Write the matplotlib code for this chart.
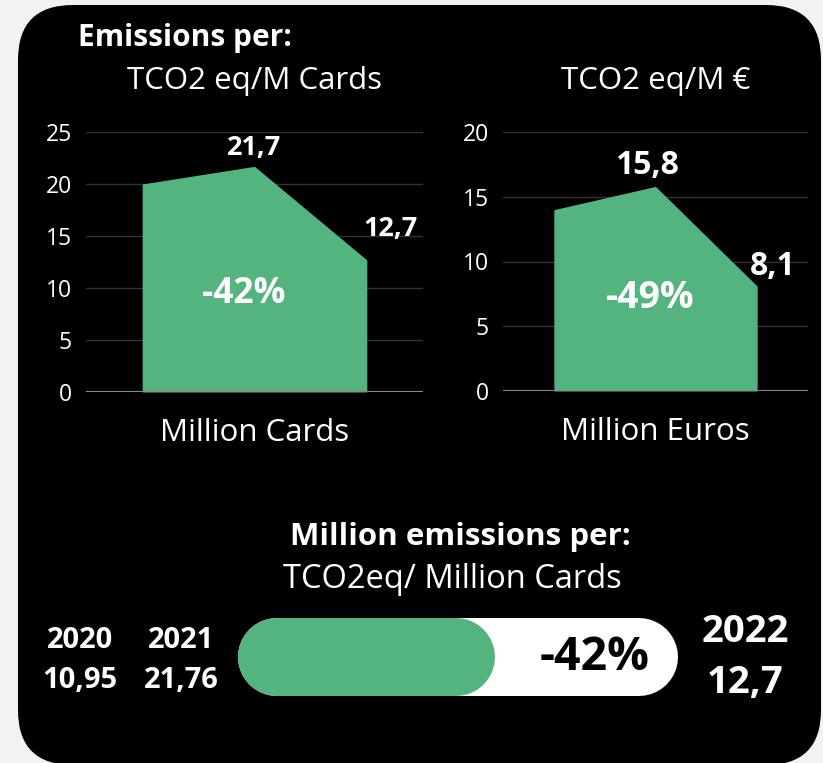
import matplotlib
matplotlib.use("Agg")
import matplotlib.pyplot as plt
from matplotlib.patches import FancyBboxPatch

plt.rcParams['font.family'] = ['Open Sans', 'DejaVu Sans']

# data
years = ['2020', '2021', '2022']
per_cards = [20.0, 21.7, 12.7]
per_euros = [14.0, 15.8, 8.1]
cards_change = '-42%'
euros_change = '-49%'
summary_years = ['2020', '2021', '2022']
summary_values = [10.95, 21.76, 12.7]
summary_change = '-42%'

green = '#53b47f'
W, H = 823, 763


def fr(x0, y0, x1, y1):
    # pixel box -> figure fraction rect
    return [x0 / W, 1 - y1 / H, (x1 - x0) / W, (y1 - y0) / H]


def fmt(v, nd=1):
    return f"{v:.{nd}f}".replace('.', ',')


fig = plt.figure(figsize=(W / 100, H / 100), dpi=100, facecolor='#f2f2f2')

# background panel in pixel coordinates
bg = fig.add_axes([0, 0, 1, 1], zorder=0)
bg.set_xlim(0, W)
bg.set_ylim(H, 0)
bg.axis('off')
bg.add_patch(FancyBboxPatch((18, 5), 803, 760, boxstyle='round,pad=0,rounding_size=55',
                            fc='black', ec='none'))
bg.text(78, 38, 'Emissions per:', color='white', fontsize=21.5, fontweight='bold',
        ha='left', va='center')
bg.text(460, 537, 'Million emissions per:', color='white', fontsize=22.5, fontweight='bold',
        ha='center', va='center')
bg.text(452, 580, 'TCO2eq/ Million Cards', color='white', fontsize=23.5,
        ha='center', va='center')
for x, yr, v in zip([80, 181], summary_years[:2], summary_values[:2]):
    bg.text(x, 640, yr, color='white', fontsize=21, fontweight='bold', ha='center', va='center')
    bg.text(x, 680, fmt(v, 2), color='white', fontsize=21, fontweight='bold', ha='center', va='center')
bg.text(745, 632, summary_years[2], color='white', fontsize=27.5, fontweight='bold', ha='center', va='center')
bg.text(745, 683, fmt(summary_values[2]), color='white', fontsize=27.5, fontweight='bold', ha='center', va='center')


def area_chart(rect, vals, ymax, title, xlabel, change, change_pos, offsets, lbl_size, chg_size):
    ax = fig.add_axes(rect, zorder=2)
    ax.patch.set_alpha(0)
    x = range(len(vals))
    ax.fill_between(x, vals, 0, color=green, lw=0, zorder=2)
    ax.set_xlim(-0.5, len(vals) - 0.5)
    ax.set_ylim(0, ymax)
    ax.set_yticks(range(0, ymax + 1, 5))
    ax.set_xticks([])
    ax.grid(axis='y', color='#333333', lw=1, zorder=0)
    ax.axhline(0, color='#8a8a8a', lw=1.5, zorder=3)
    for s in ax.spines.values():
        s.set_visible(False)
    ax.tick_params(axis='y', length=0, labelcolor='white', labelsize=16.5, pad=10)
    ax.set_title(title, color='white', fontsize=22.5, pad=31)
    ax.set_xlabel(xlabel, color='white', fontsize=22.5, labelpad=19)
    for i in (1, 2):
        ax.annotate(fmt(vals[i]), (i, vals[i]), xytext=offsets[i - 1], textcoords='offset points',
                    color='white', fontsize=lbl_size, fontweight='bold', ha='center', va='center')
    ax.text(change_pos[0], change_pos[1], change, transform=ax.transAxes, color='white',
            fontsize=chg_size, fontweight='bold', ha='center', va='center')
    return ax


area_chart(fr(86, 132, 423, 392), per_cards, 25, 'TCO2 eq/M Cards', 'Million Cards',
           cards_change, (0.469, 0.377), [(0, 13), (17, 22)], 19.5, 25.5)
area_chart(fr(503, 132, 808, 391), per_euros, 20, 'TCO2 eq/M €', 'Million Euros',
           euros_change, (0.482, 0.359), [(-6, 15), (11, 14)], 23, 27)

# pill progress bar
pax = fig.add_axes(fr(238, 618, 678, 696), zorder=2)
pax.patch.set_alpha(0)
pax.axis('off')
track = summary_values[1]
pax.set_xlim(0, track)
pax.set_ylim(0, 1)
r = track * 39 / 440  # cap radius in data units
lw = 78 * 72 / 100
pax.plot([r, track - r], [0.5, 0.5], color='white', lw=lw, solid_capstyle='round')
pax.plot([r, summary_values[2] - r], [0.5, 0.5], color=green, lw=lw, solid_capstyle='round')
pax.text(0.81, 0.5, summary_change, transform=pax.transAxes, color='black', fontsize=33.5,
         fontweight='bold', ha='center', va='center')

fig.savefig('out.png', dpi=100, facecolor=fig.get_facecolor())
